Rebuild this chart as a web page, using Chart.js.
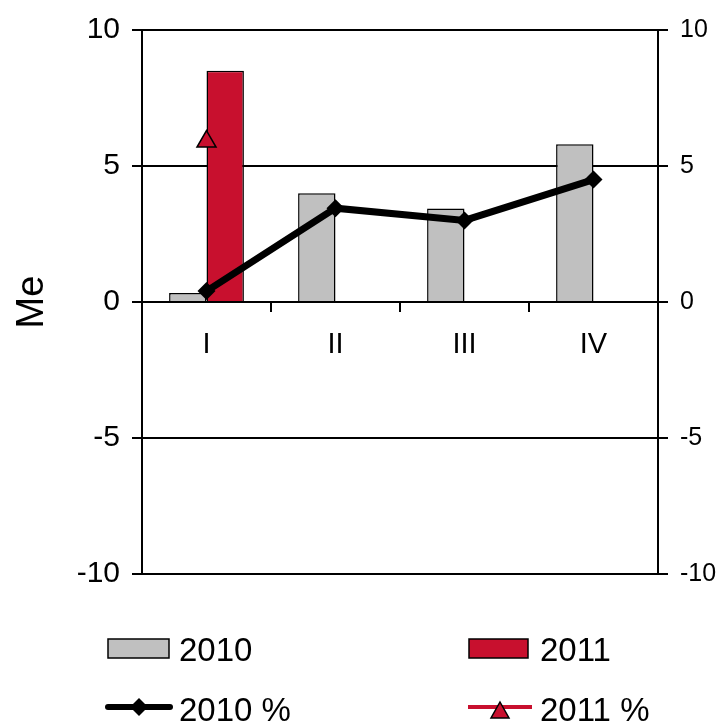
<!DOCTYPE html>
<html>
<head>
<meta charset="utf-8">
<script src="https://cdn.jsdelivr.net/npm/chart.js@4/dist/chart.umd.min.js"></script>
<style>
  body { margin: 0; background: #fff; }
  #wrap { position: relative; width: 723px; height: 726px; }
  .leg { position: absolute; font-family: "Liberation Sans", Arial, sans-serif; font-size: 33px; color: #000; line-height: 1; white-space: nowrap; }
  .leg svg { position: absolute; }
</style>
</head>
<body>
<div id="wrap">
  <canvas id="quarterChart" width="723" height="726"></canvas>
  <div class="leg" style="left:107px;top:633px;"><svg width="64" height="22" style="left:0;top:5px;"><rect x="1" y="1" width="61" height="19" fill="#C0C0C0" stroke="#000" stroke-width="1.5"/></svg><span style="margin-left:72px;">2010</span></div>
  <div class="leg" style="left:468px;top:633px;"><svg width="62" height="22" style="left:0;top:5px;"><rect x="1" y="1" width="59" height="19" fill="#C8102E" stroke="#000" stroke-width="1.5"/></svg><span style="margin-left:72px;">2011</span></div>
  <div class="leg" style="left:104px;top:693px;"><svg width="70" height="24" style="left:0;top:3px;"><line x1="4" y1="11" x2="66" y2="11" stroke="#000" stroke-width="6" stroke-linecap="round"/><polygon points="35,2 44,11 35,20 26,11" fill="#000"/></svg><span style="margin-left:75px;">2010 %</span></div>
  <div class="leg" style="left:468px;top:693px;"><svg width="66" height="26" style="left:0;top:2px;"><line x1="0" y1="12" x2="64" y2="12" stroke="#C8102E" stroke-width="4"/><polygon points="32,7 41,23 23,23" fill="#C8102E" stroke="#000" stroke-width="1.5"/></svg><span style="margin-left:72px;">2011 %</span></div>
</div>
<script>
const CHART = document.getElementById("quarterChart");
Chart.defaults.font.family = '"Liberation Sans", Arial, sans-serif';
Chart.defaults.color = "#000";

// quarters and values
const quarters = ["I", "II", "III", "IV"];
const values2010 = [0.33, 4.0, 3.44, 5.8];
const values2011 = [8.5, null, null, null];
const pct2010 = [0.4, 3.45, 3.0, 4.5];
const pct2011 = [5.9, null, null, null];
const yTicks = [-10, -5, 0, 5, 10];

let quarterChart = new Chart(CHART, {
  type: "bar",
  data: {
    labels: quarters,
    datasets: [
      {
        type: "line",
        label: "2010 %",
        data: pct2010,
        yAxisID: "y2",
        borderColor: "#000",
        backgroundColor: "#000",
        borderWidth: 7,
        pointStyle: "rectRot",
        pointRadius: 9,
        pointBorderWidth: 0,
        order: 0,
      },
      {
        type: "line",
        label: "2011 %",
        data: pct2011,
        yAxisID: "y2",
        borderColor: "#C8102E",
        backgroundColor: "#C8102E",
        borderWidth: 3,
        pointStyle: "triangle",
        pointRadius: 11,
        pointBorderColor: "#000",
        pointBorderWidth: 1.5,
        order: 0,
      },
      {
        label: "2010",
        data: values2010,
        backgroundColor: "#C0C0C0",
        borderColor: "#000",
        borderWidth: 1.5,
        order: 1,
      },
      {
        label: "2011",
        data: values2011,
        backgroundColor: "#C8102E",
        borderColor: "#000",
        borderWidth: 1.5,
        order: 1,
      },
    ],
  },
  options: {
    responsive: false,
    animation: false,
    layout: { padding: { top: 26, bottom: 152, left: 0, right: 0 } },
    datasets: { bar: { categoryPercentage: 0.58, barPercentage: 1, skipNull: false } },
    plugins: { legend: { display: false }, tooltip: { enabled: false } },
    scales: {
      x: {
        position: { y: 0 },
        grid: { offset: true, drawOnChartArea: false, color: "#000", lineWidth: 2, tickLength: 9 },
        border: { color: "#000", width: 2 },
        ticks: { font: { size: 29 }, padding: 17 },
      },
      y: {
        position: "left",
        min: -10,
        max: 10,
        afterBuildTicks: (s) => { s.ticks = yTicks.map((v) => ({ value: v })); },
        afterFit: (s) => { s.width = 142; },
        grid: { color: "#000", lineWidth: 2, tickLength: 10 },
        border: { color: "#000", width: 2 },
        ticks: { font: { size: 30 }, padding: 12 },
        title: { display: true, text: "Me", font: { size: 38 }, padding: { top: 10, bottom: 0 } },
      },
      y2: {
        position: "right",
        min: -10,
        max: 10,
        afterBuildTicks: (s) => { s.ticks = yTicks.map((v) => ({ value: v })); },
        afterFit: (s) => { s.width = 65; },
        grid: { drawOnChartArea: false, color: "#000", lineWidth: 2, tickLength: 10 },
        border: { color: "#000", width: 2 },
        ticks: { font: { size: 25 }, padding: 12 },
      },
    },
  },
});
</script>
</body>
</html>
